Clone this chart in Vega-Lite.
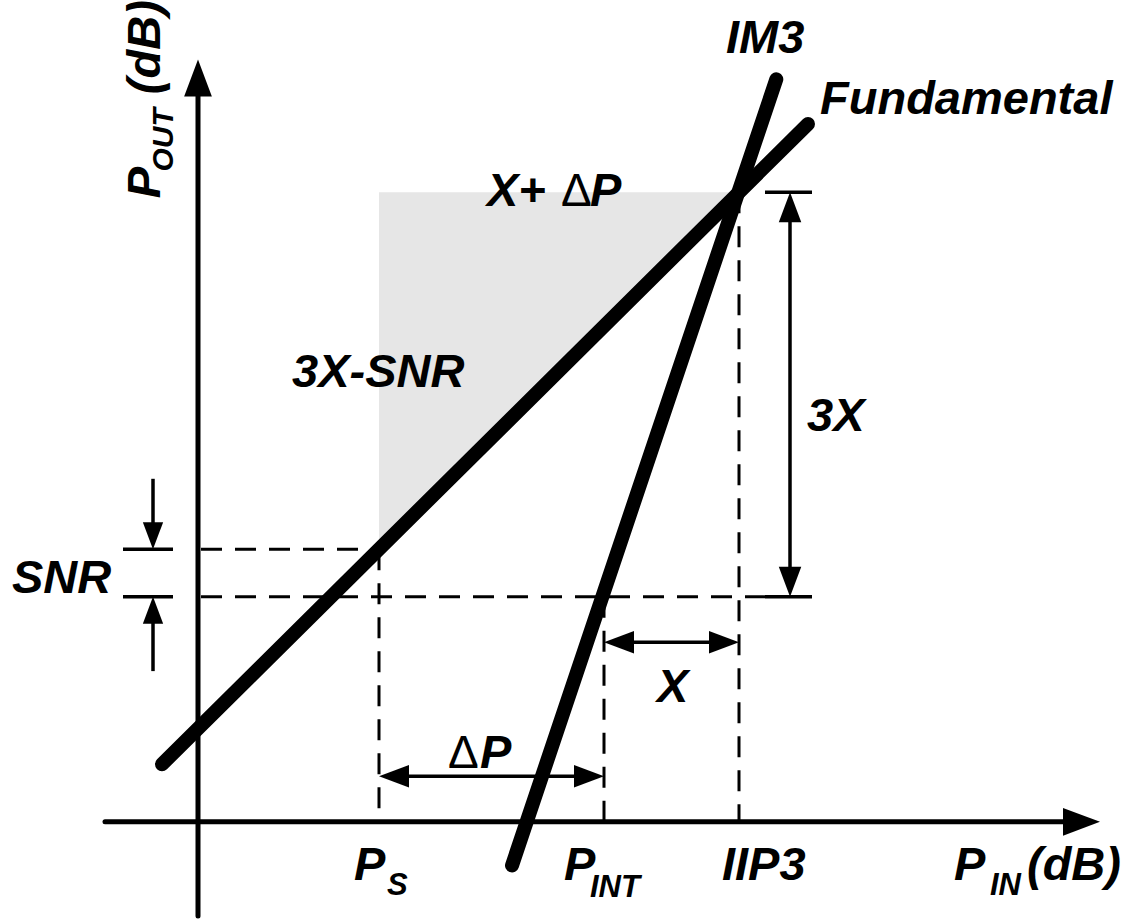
{
  "$schema": "https://vega.github.io/schema/vega-lite/v6.json",
  "width": 1126,
  "height": 919,
  "padding": 0,
  "autosize": {"type": "fit", "contains": "padding"},
  "background": "white",
  "config": {"view": {"stroke": null}},
  "encoding": {
    "x": {"field": "x", "type": "quantitative", "scale": {"domain": [-19.8, 92.8], "nice": false, "zero": false}, "axis": null},
    "y": {"field": "y", "type": "quantitative", "scale": {"domain": [-9, 82.9], "nice": false, "zero": false}, "axis": null}
  },
  "layer": [
    {
      "data": {"values": [
        {"x": 18.1, "y": 63.5, "y2": 27.5},
        {"x": 54.1, "y": 63.5, "y2": 63.5}
      ]},
      "mark": {"type": "area", "color": "#e6e6e6", "opacity": 1},
      "encoding": {"y2": {"field": "y2"}}
    },
    {
      "data": {"values": [
        {"x": 0.3, "y": 27.5, "x2": 18.1, "y2": 27.5},
        {"x": 0.3, "y": 22.7, "x2": 56.7, "y2": 22.7},
        {"x": 18.1, "y": 27.5, "x2": 18.1, "y2": 0},
        {"x": 40.6, "y": 22.7, "x2": 40.6, "y2": 0},
        {"x": 54.1, "y": 63.5, "x2": 54.1, "y2": 0}
      ]},
      "mark": {"type": "rule", "color": "black", "strokeWidth": 3, "strokeDash": [21, 13]},
      "encoding": {"x2": {"field": "x2"}, "y2": {"field": "y2"}}
    },
    {
      "data": {"values": [
        {"x": 56.7, "y": 63.5, "x2": 61.4, "y2": 63.5},
        {"x": 56.7, "y": 22.7, "x2": 61.4, "y2": 22.7},
        {"x": -7.5, "y": 27.5, "x2": -2.5, "y2": 27.5},
        {"x": -7.5, "y": 22.7, "x2": -2.5, "y2": 22.7},
        {"x": 59.2, "y": 62.0, "x2": 59.2, "y2": 24.2},
        {"x": 42.1, "y": 18.1, "x2": 52.6, "y2": 18.1},
        {"x": 19.6, "y": 4.6, "x2": 39.1, "y2": 4.6},
        {"x": -4.5, "y": 34.6, "x2": -4.5, "y2": 29.0},
        {"x": -4.5, "y": 15.2, "x2": -4.5, "y2": 21.2}
      ]},
      "mark": {"type": "rule", "color": "black", "strokeWidth": 3.5},
      "encoding": {"x2": {"field": "x2"}, "y2": {"field": "y2"}}
    },
    {
      "data": {"values": [
        {"x": 0, "y": -9.5, "x2": 0, "y2": 74},
        {"x": -9.3, "y": 0, "x2": 87, "y2": 0}
      ]},
      "mark": {"type": "rule", "color": "black", "strokeWidth": 5, "strokeCap": "round"},
      "encoding": {"x2": {"field": "x2"}, "y2": {"field": "y2"}}
    },
    {
      "data": {"values": [
        {"name": "Fundamental", "x": -3.6, "y": 5.8, "x2": 61.0, "y2": 70.4},
        {"name": "IM3", "x": 31.4, "y": -4.4, "x2": 57.83, "y2": 74.9}
      ]},
      "mark": {"type": "rule", "color": "black", "strokeWidth": 14, "strokeCap": "round"},
      "encoding": {"x2": {"field": "x2"}, "y2": {"field": "y2"}}
    },
    {
      "data": {"values": [
        {"x": 59.2, "y": 63.5, "dir": "up"},
        {"x": 59.2, "y": 22.7, "dir": "down"},
        {"x": 40.6, "y": 18.1, "dir": "left"},
        {"x": 54.1, "y": 18.1, "dir": "right"},
        {"x": 18.1, "y": 4.6, "dir": "left"},
        {"x": 40.6, "y": 4.6, "dir": "right"}
      ]},
      "mark": {"type": "point", "filled": true, "color": "black", "opacity": 1, "size": 900, "strokeWidth": 0},
      "encoding": {
        "shape": {"field": "dir", "type": "nominal", "legend": null,
          "scale": {"domain": ["up", "right", "down", "left"],
            "range": ["M0,0L-0.75,2L0.75,2Z", "M0,0L-2,-0.75L-2,0.75Z", "M0,0L-0.75,-2L0.75,-2Z", "M0,0L2,-0.75L2,0.75Z"]}}
      }
    },
    {
      "data": {"values": [
        {"x": -4.5, "y": 27.5, "dir": "down"},
        {"x": -4.5, "y": 22.7, "dir": "up"}
      ]},
      "mark": {"type": "point", "filled": true, "color": "black", "opacity": 1, "size": 730, "strokeWidth": 0},
      "encoding": {
        "shape": {"field": "dir", "type": "nominal", "legend": null,
          "scale": {"domain": ["up", "right", "down", "left"],
            "range": ["M0,0L-0.75,2L0.75,2Z", "M0,0L-2,-0.75L-2,0.75Z", "M0,0L-0.75,-2L0.75,-2Z", "M0,0L2,-0.75L2,0.75Z"]}}
      }
    },
    {
      "data": {"values": [
        {"x": 0, "y": 76.9, "dir": "up"},
        {"x": 90.2, "y": 0, "dir": "right"}
      ]},
      "mark": {"type": "point", "filled": true, "color": "black", "opacity": 1, "size": 1369, "strokeWidth": 0},
      "encoding": {
        "shape": {"field": "dir", "type": "nominal", "legend": null,
          "scale": {"domain": ["up", "right", "down", "left"],
            "range": ["M0,0L-0.7,2L0.7,2Z", "M0,0L-2,-0.7L-2,0.7Z", "M0,0L-0.7,-2L0.7,-2Z", "M0,0L2,-0.7L2,0.7Z"]}}
      }
    },
    {
      "data": {"values": [
        {"t": "IM3", "x": 52.8, "y": 77.6},
        {"t": "Fundamental", "x": 62.2, "y": 71.4},
        {"t": "X+", "x": 28.9, "y": 62.1},
        {"t": "P", "x": 39.2, "y": 62.1},
        {"t": "3X-SNR", "x": 9.4, "y": 43.9},
        {"t": "3X", "x": 60.9, "y": 39.4},
        {"t": "SNR", "x": -18.6, "y": 23.1},
        {"t": "X", "x": 45.9, "y": 12.1},
        {"t": "P", "x": 28.2, "y": 5.4},
        {"t": "P", "x": 15.6, "y": -5.9},
        {"t": "P", "x": 36.6, "y": -5.9},
        {"t": "IIP3", "x": 52.4, "y": -5.9},
        {"t": "P", "x": 75.6, "y": -5.9},
        {"t": "(dB)", "x": 82.9, "y": -5.9}
      ]},
      "mark": {"type": "text", "align": "left", "baseline": "alphabetic", "font": "Liberation Sans", "fontStyle": "italic", "fontWeight": "bold", "fontSize": 47, "color": "black"},
      "encoding": {"text": {"field": "t"}}
    },
    {
      "data": {"values": [
        {"t": "Δ", "x": 36.3, "y": 62.1},
        {"t": "Δ", "x": 25.0, "y": 5.4}
      ]},
      "mark": {"type": "text", "align": "left", "baseline": "alphabetic", "font": "Liberation Sans", "fontStyle": "normal", "fontWeight": "normal", "fontSize": 46, "color": "black"},
      "encoding": {"text": {"field": "t"}}
    },
    {
      "data": {"values": [
        {"t": "S", "x": 18.9, "y": -7.4},
        {"t": "INT", "x": 39.2, "y": -7.6},
        {"t": "IN", "x": 79.2, "y": -7.4}
      ]},
      "mark": {"type": "text", "align": "left", "baseline": "alphabetic", "font": "Liberation Sans", "fontStyle": "italic", "fontWeight": "bold", "fontSize": 31, "color": "black"},
      "encoding": {"text": {"field": "t"}}
    },
    {
      "data": {"values": [
        {"t": "P", "x": -3.8, "y": 62.9},
        {"t": "(dB)", "x": -3.8, "y": 73.4}
      ]},
      "mark": {"type": "text", "align": "left", "baseline": "alphabetic", "angle": 270, "font": "Liberation Sans", "fontStyle": "italic", "fontWeight": "bold", "fontSize": 47, "color": "black"},
      "encoding": {"text": {"field": "t"}}
    },
    {
      "data": {"values": [
        {"t": "OUT", "x": -2.5, "y": 65.6}
      ]},
      "mark": {"type": "text", "align": "left", "baseline": "alphabetic", "angle": 270, "font": "Liberation Sans", "fontStyle": "italic", "fontWeight": "bold", "fontSize": 30, "color": "black"},
      "encoding": {"text": {"field": "t"}}
    }
  ]
}
